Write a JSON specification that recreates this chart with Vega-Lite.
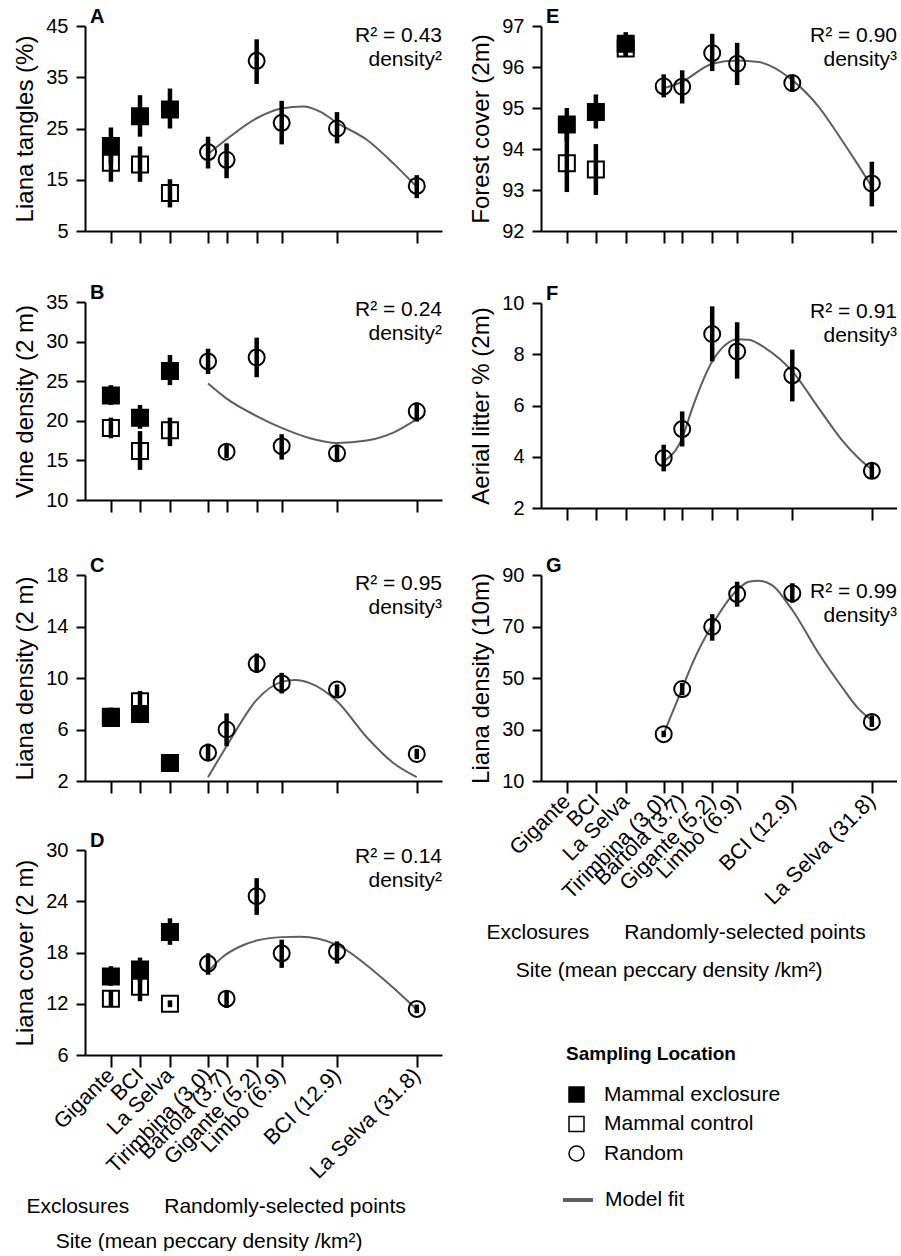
{
"$schema": "https://vega.github.io/schema/vega-lite/v6.json",
"padding": {"left": 13, "top": 7, "right": 0, "bottom": 0},
"background": "white",
"datasets": {
"pts": [
{"p":"A","d":1,"t":"Mammal exclosure","m":21.6,"lo":18.2,"hi":25.2},
{"p":"A","d":1.39,"t":"Mammal exclosure","m":27.4,"lo":23.4,"hi":31.5},
{"p":"A","d":1.95,"t":"Mammal exclosure","m":28.7,"lo":25.0,"hi":32.8},
{"p":"A","d":1,"t":"Mammal control","m":18.3,"lo":14.6,"hi":21.9},
{"p":"A","d":1.39,"t":"Mammal control","m":18.0,"lo":14.6,"hi":21.5},
{"p":"A","d":1.95,"t":"Mammal control","m":12.4,"lo":9.6,"hi":15.1},
{"p":"A","d":3,"t":"Random","m":20.4,"lo":17.2,"hi":23.4},
{"p":"A","d":3.7,"t":"Random","m":18.9,"lo":15.3,"hi":22.1},
{"p":"A","d":5.2,"t":"Random","m":38.2,"lo":33.7,"hi":42.4},
{"p":"A","d":6.9,"t":"Random","m":26.1,"lo":21.9,"hi":30.4},
{"p":"A","d":12.9,"t":"Random","m":25.0,"lo":22.1,"hi":28.2},
{"p":"A","d":31.8,"t":"Random","m":13.8,"lo":11.4,"hi":15.9},
{"p":"B","d":1,"t":"Mammal exclosure","m":23.2,"lo":22.0,"hi":24.5},
{"p":"B","d":1.39,"t":"Mammal exclosure","m":20.4,"lo":19.0,"hi":22.0},
{"p":"B","d":1.95,"t":"Mammal exclosure","m":26.3,"lo":24.5,"hi":28.3},
{"p":"B","d":1,"t":"Mammal control","m":19.1,"lo":17.8,"hi":20.4},
{"p":"B","d":1.39,"t":"Mammal control","m":16.2,"lo":13.8,"hi":18.7},
{"p":"B","d":1.95,"t":"Mammal control","m":18.8,"lo":16.8,"hi":20.4},
{"p":"B","d":3,"t":"Random","m":27.5,"lo":25.9,"hi":29.1},
{"p":"B","d":3.7,"t":"Random","m":16.1,"lo":15.3,"hi":17.0},
{"p":"B","d":5.2,"t":"Random","m":28.0,"lo":25.5,"hi":30.5},
{"p":"B","d":6.9,"t":"Random","m":16.8,"lo":15.1,"hi":18.3},
{"p":"B","d":12.9,"t":"Random","m":15.9,"lo":14.9,"hi":16.9},
{"p":"B","d":31.8,"t":"Random","m":21.2,"lo":19.9,"hi":22.3},
{"p":"C","d":1,"t":"Mammal exclosure","m":6.9,"lo":6.3,"hi":7.7},
{"p":"C","d":1.39,"t":"Mammal exclosure","m":7.2,"lo":6.5,"hi":7.8},
{"p":"C","d":1.95,"t":"Mammal exclosure","m":3.4,"lo":3.1,"hi":3.7},
{"p":"C","d":1,"t":"Mammal control","m":7.0,"lo":6.5,"hi":7.5},
{"p":"C","d":1.39,"t":"Mammal control","m":8.2,"lo":7.5,"hi":9.0},
{"p":"C","d":1.95,"t":"Mammal control","m":3.4,"lo":3.1,"hi":3.6},
{"p":"C","d":3,"t":"Random","m":4.2,"lo":3.6,"hi":4.9},
{"p":"C","d":3.7,"t":"Random","m":6.0,"lo":4.7,"hi":7.25},
{"p":"C","d":5.2,"t":"Random","m":11.1,"lo":10.4,"hi":11.9},
{"p":"C","d":6.9,"t":"Random","m":9.6,"lo":8.8,"hi":10.4},
{"p":"C","d":12.9,"t":"Random","m":9.1,"lo":8.55,"hi":9.5},
{"p":"C","d":31.8,"t":"Random","m":4.1,"lo":3.7,"hi":4.5},
{"p":"D","d":1,"t":"Mammal exclosure","m":15.2,"lo":14.1,"hi":16.4},
{"p":"D","d":1.39,"t":"Mammal exclosure","m":16.0,"lo":14.6,"hi":17.4},
{"p":"D","d":1.95,"t":"Mammal exclosure","m":20.4,"lo":18.9,"hi":22.0},
{"p":"D","d":1,"t":"Mammal control","m":12.6,"lo":11.7,"hi":13.6},
{"p":"D","d":1.39,"t":"Mammal control","m":14.0,"lo":12.3,"hi":15.8},
{"p":"D","d":1.95,"t":"Mammal control","m":12.0,"lo":11.6,"hi":12.4},
{"p":"D","d":3,"t":"Random","m":16.7,"lo":15.4,"hi":17.9},
{"p":"D","d":3.7,"t":"Random","m":12.6,"lo":11.5,"hi":13.5},
{"p":"D","d":5.2,"t":"Random","m":24.6,"lo":22.4,"hi":26.7},
{"p":"D","d":6.9,"t":"Random","m":17.9,"lo":16.2,"hi":19.5},
{"p":"D","d":12.9,"t":"Random","m":18.1,"lo":16.7,"hi":19.3},
{"p":"D","d":31.8,"t":"Random","m":11.4,"lo":10.9,"hi":11.9},
{"p":"E","d":1,"t":"Mammal exclosure","m":94.6,"lo":94.2,"hi":95.0},
{"p":"E","d":1.39,"t":"Mammal exclosure","m":94.9,"lo":94.5,"hi":95.33},
{"p":"E","d":1.95,"t":"Mammal exclosure","m":96.57,"lo":96.25,"hi":96.85},
{"p":"E","d":1,"t":"Mammal control","m":93.65,"lo":92.95,"hi":94.4},
{"p":"E","d":1.39,"t":"Mammal control","m":93.5,"lo":92.88,"hi":94.12},
{"p":"E","d":1.95,"t":"Mammal control","m":96.45,"lo":96.3,"hi":96.6},
{"p":"E","d":3,"t":"Random","m":95.53,"lo":95.26,"hi":95.82},
{"p":"E","d":3.7,"t":"Random","m":95.52,"lo":95.11,"hi":95.92},
{"p":"E","d":5.2,"t":"Random","m":96.34,"lo":95.9,"hi":96.81},
{"p":"E","d":6.9,"t":"Random","m":96.08,"lo":95.56,"hi":96.59},
{"p":"E","d":12.9,"t":"Random","m":95.61,"lo":95.39,"hi":95.8},
{"p":"E","d":31.8,"t":"Random","m":93.16,"lo":92.6,"hi":93.69},
{"p":"F","d":3,"t":"Random","m":3.95,"lo":3.43,"hi":4.47},
{"p":"F","d":3.7,"t":"Random","m":5.08,"lo":4.4,"hi":5.77},
{"p":"F","d":5.2,"t":"Random","m":8.79,"lo":7.72,"hi":9.87},
{"p":"F","d":6.9,"t":"Random","m":8.11,"lo":7.05,"hi":9.25},
{"p":"F","d":12.9,"t":"Random","m":7.18,"lo":6.16,"hi":8.18},
{"p":"F","d":31.8,"t":"Random","m":3.45,"lo":3.16,"hi":3.75},
{"p":"G","d":3,"t":"Random","m":28.2,"lo":27.0,"hi":29.5},
{"p":"G","d":3.7,"t":"Random","m":45.7,"lo":43.3,"hi":48.1},
{"p":"G","d":5.2,"t":"Random","m":69.9,"lo":64.5,"hi":74.8},
{"p":"G","d":6.9,"t":"Random","m":82.6,"lo":77.7,"hi":87.4},
{"p":"G","d":12.9,"t":"Random","m":82.9,"lo":79.2,"hi":86.8},
{"p":"G","d":31.8,"t":"Random","m":32.95,"lo":31.0,"hi":35.5}
],
"fit": [
{"p":"A","d":3,"v":20.0},{"p":"A","d":3.7,"v":22.9},{"p":"A","d":5.2,"v":27.0},{"p":"A","d":6.9,"v":28.9},{"p":"A","d":8.8,"v":29.3},{"p":"A","d":10.65,"v":28.3},{"p":"A","d":12.9,"v":26.1},{"p":"A","d":18.06,"v":22.8},{"p":"A","d":24.4,"v":18.2},{"p":"A","d":31.8,"v":13.6},
{"p":"B","d":3,"v":24.7},{"p":"B","d":3.7,"v":22.8},{"p":"B","d":5.2,"v":20.6},{"p":"B","d":6.9,"v":19.1},{"p":"B","d":9.5,"v":17.8},{"p":"B","d":12.9,"v":17.2},{"p":"B","d":18.06,"v":17.5},{"p":"B","d":24.4,"v":18.5},{"p":"B","d":31.8,"v":20.2},
{"p":"C","d":3,"v":2.3},{"p":"C","d":3.7,"v":4.7},{"p":"C","d":5.2,"v":8.3},{"p":"C","d":6.9,"v":9.7},{"p":"C","d":8.03,"v":9.85},{"p":"C","d":9.5,"v":9.6},{"p":"C","d":12.9,"v":8.2},{"p":"C","d":18.06,"v":5.4},{"p":"C","d":24.4,"v":3.4},{"p":"C","d":31.8,"v":2.3},
{"p":"D","d":3,"v":15.75},{"p":"D","d":3.55,"v":17.5},{"p":"D","d":4.31,"v":18.7},{"p":"D","d":5.2,"v":19.4},{"p":"D","d":6.9,"v":19.8},{"p":"D","d":8.49,"v":19.85},{"p":"D","d":12.9,"v":18.9},{"p":"D","d":20.2,"v":15.55},{"p":"D","d":29.5,"v":12.05},{"p":"D","d":31.8,"v":11.3},
{"p":"E","d":3,"v":95.48},{"p":"E","d":3.7,"v":95.64},{"p":"E","d":5.2,"v":96.08},{"p":"E","d":6.9,"v":96.16},{"p":"E","d":8.82,"v":96.12},{"p":"E","d":12.9,"v":95.68},{"p":"E","d":17.4,"v":95.03},{"p":"E","d":22.6,"v":94.22},{"p":"E","d":27.3,"v":93.6},{"p":"E","d":31.8,"v":93.08},
{"p":"F","d":3,"v":3.82},{"p":"F","d":3.7,"v":4.73},{"p":"F","d":4.15,"v":5.9},{"p":"F","d":5.2,"v":7.72},{"p":"F","d":6.05,"v":8.37},{"p":"F","d":6.9,"v":8.59},{"p":"F","d":7.87,"v":8.57},{"p":"F","d":9.5,"v":8.24},{"p":"F","d":12.9,"v":7.33},{"p":"F","d":17.4,"v":5.9},{"p":"F","d":22.6,"v":4.66},{"p":"F","d":27.3,"v":3.95},{"p":"F","d":31.8,"v":3.5},
{"p":"G","d":3,"v":28.4},{"p":"G","d":3.7,"v":45.9},{"p":"G","d":4.15,"v":55.6},{"p":"G","d":5.2,"v":70.6},{"p":"G","d":6.9,"v":84.2},{"p":"G","d":7.87,"v":87.4},{"p":"G","d":8.82,"v":87.8},{"p":"G","d":10.25,"v":86.1},{"p":"G","d":12.9,"v":76.4},{"p":"G","d":17.4,"v":59.5},{"p":"G","d":22.6,"v":46.6},{"p":"G","d":27.3,"v":38.1},{"p":"G","d":31.8,"v":33.6}
],
"ann": [
{"p":"A","lt":"A","label":"R² = 0.43\ndensity²"},
{"p":"B","lt":"B","label":"R² = 0.24\ndensity²"},
{"p":"C","lt":"C","label":"R² = 0.95\ndensity³"},
{"p":"D","lt":"D","label":"R² = 0.14\ndensity²"},
{"p":"E","lt":"E","label":"R² = 0.90\ndensity³"},
{"p":"F","lt":"F","label":"R² = 0.91\ndensity³"},
{"p":"G","lt":"G","label":"R² = 0.99\ndensity³"}
]
},
"hconcat": [
{"vconcat": [
 {"vconcat": [
  {"width": 357, "height": 205,
   "layer": [
    {"data": {"name": "fit"}, "transform": [{"filter": "datum.p=='A'"}], "mark": {"type": "line", "interpolate": "monotone", "strokeWidth": 2},
     "encoding": {"x": {"field": "d", "type": "quantitative", "scale": {"type": "log", "domain": [0.746, 42.3], "nice": false}, "axis": {"values": [1,1.39,1.95,3,3.7,5.2,6.9,12.9,31.8], "tickCount": 30, "labels": false, "title": null}},
      "y": {"field": "v", "type": "quantitative", "scale": {"domain": [5,45], "nice": false, "zero": false}, "axis": {"values": [5,15,25,35,45], "tickCount": 20, "format": "d", "labelOverlap": false, "title": "Liana tangles (%)"}},
      "stroke": {"datum": "Model fit", "type": "nominal", "scale": {"domain": ["Model fit"], "range": ["#5e5e5e"]}, "legend": {"title": null, "orient": "none", "legendX": 476, "legendY": 1157, "symbolType": "stroke", "symbolStrokeWidth": 4, "symbolSize": 900, "labelOffset": 10}}}},
    {"data": {"name": "pts"}, "transform": [{"filter": "datum.p=='A'"}], "mark": {"type": "point", "stroke": "black", "strokeWidth": 2, "size": 256, "opacity": 1},
     "encoding": {"x": {"field": "d", "type": "quantitative"}, "y": {"field": "m", "type": "quantitative"},
      "shape": {"field": "t", "type": "nominal", "scale": {"domain": ["Mammal exclosure","Mammal control","Random"], "range": ["square","square","circle"]}, "legend": {"title": "Sampling Location", "orient": "none", "legendX": 481, "legendY": 1019, "encode": {"symbols": {"update": {"stroke": {"value": "black"}, "strokeWidth": {"value": 2}}}}}},
      "fill": {"field": "t", "type": "nominal", "scale": {"domain": ["Mammal exclosure","Mammal control","Random"], "range": ["black","transparent","transparent"]}, "legend": {"title": "Sampling Location", "orient": "none", "legendX": 481, "legendY": 1019, "encode": {"symbols": {"update": {"stroke": {"value": "black"}, "strokeWidth": {"value": 2}}}}}}}},
    {"data": {"name": "pts"}, "transform": [{"filter": "datum.p=='A'"}], "mark": {"type": "rule", "color": "black", "strokeWidth": 4.5},
     "encoding": {"x": {"field": "d", "type": "quantitative"}, "y": {"field": "lo", "type": "quantitative"}, "y2": {"field": "hi"}}},
    {"data": {"name": "ann"}, "transform": [{"filter": "datum.p=='A'"}], "mark": {"type": "text", "align": "right", "baseline": "alphabetic", "fontSize": 21, "lineBreak": "\n", "lineHeight": 24},
     "encoding": {"x": {"datum": 42.3, "type": "quantitative"}, "y": {"datum": 41.9, "type": "quantitative"}, "text": {"field": "label"}}},
    {"data": {"name": "ann"}, "transform": [{"filter": "datum.p=='A'"}], "mark": {"type": "text", "align": "left", "baseline": "alphabetic", "fontSize": 20, "fontWeight": "bold", "dx": 5, "dy": -3},
     "encoding": {"x": {"datum": 0.746, "type": "quantitative"}, "y": {"datum": 45, "type": "quantitative"}, "text": {"field": "lt"}}}
   ]},
  {"width": 357, "height": 198,
   "layer": [
    {"data": {"name": "fit"}, "transform": [{"filter": "datum.p=='B'"}], "mark": {"type": "line", "interpolate": "monotone", "strokeWidth": 2},
     "encoding": {"x": {"field": "d", "type": "quantitative", "scale": {"type": "log", "domain": [0.746, 42.3], "nice": false}, "axis": {"values": [1,1.39,1.95,3,3.7,5.2,6.9,12.9,31.8], "tickCount": 30, "labels": false, "title": null}},
      "y": {"field": "v", "type": "quantitative", "scale": {"domain": [10,35], "nice": false, "zero": false}, "axis": {"values": [10,15,20,25,30,35], "tickCount": 20, "format": "d", "labelOverlap": false, "title": "Vine density (2 m)"}},
      "stroke": {"datum": "Model fit", "type": "nominal"}}},
    {"data": {"name": "pts"}, "transform": [{"filter": "datum.p=='B'"}], "mark": {"type": "point", "stroke": "black", "strokeWidth": 2, "size": 256, "opacity": 1},
     "encoding": {"x": {"field": "d", "type": "quantitative"}, "y": {"field": "m", "type": "quantitative"},
      "shape": {"field": "t", "type": "nominal", "title": "Sampling Location"},
      "fill": {"field": "t", "type": "nominal", "title": "Sampling Location"}}},
    {"data": {"name": "pts"}, "transform": [{"filter": "datum.p=='B'"}], "mark": {"type": "rule", "color": "black", "strokeWidth": 4.5},
     "encoding": {"x": {"field": "d", "type": "quantitative"}, "y": {"field": "lo", "type": "quantitative"}, "y2": {"field": "hi"}}},
    {"data": {"name": "ann"}, "transform": [{"filter": "datum.p=='B'"}], "mark": {"type": "text", "align": "right", "baseline": "alphabetic", "fontSize": 21, "lineBreak": "\n", "lineHeight": 24},
     "encoding": {"x": {"datum": 42.3, "type": "quantitative"}, "y": {"datum": 33.2, "type": "quantitative"}, "text": {"field": "label"}}},
    {"data": {"name": "ann"}, "transform": [{"filter": "datum.p=='B'"}], "mark": {"type": "text", "align": "left", "baseline": "alphabetic", "fontSize": 20, "fontWeight": "bold", "dx": 5, "dy": -3},
     "encoding": {"x": {"datum": 0.746, "type": "quantitative"}, "y": {"datum": 35, "type": "quantitative"}, "text": {"field": "lt"}}}
   ]}
 ], "spacing": 39},
 {"vconcat": [
  {"width": 357, "height": 206,
   "layer": [
    {"data": {"name": "fit"}, "transform": [{"filter": "datum.p=='C'"}], "mark": {"type": "line", "interpolate": "monotone", "strokeWidth": 2},
     "encoding": {"x": {"field": "d", "type": "quantitative", "scale": {"type": "log", "domain": [0.746, 42.3], "nice": false}, "axis": {"values": [1,1.39,1.95,3,3.7,5.2,6.9,12.9,31.8], "tickCount": 30, "labels": false, "title": null}},
      "y": {"field": "v", "type": "quantitative", "scale": {"domain": [2,18], "nice": false, "zero": false}, "axis": {"values": [2,6,10,14,18], "tickCount": 20, "format": "d", "labelOverlap": false, "title": "Liana density (2 m)"}},
      "stroke": {"datum": "Model fit", "type": "nominal"}}},
    {"data": {"name": "pts"}, "transform": [{"filter": "datum.p=='C'"}], "mark": {"type": "point", "stroke": "black", "strokeWidth": 2, "size": 256, "opacity": 1},
     "encoding": {"x": {"field": "d", "type": "quantitative"}, "y": {"field": "m", "type": "quantitative"},
      "shape": {"field": "t", "type": "nominal", "title": "Sampling Location"},
      "fill": {"field": "t", "type": "nominal", "title": "Sampling Location"}}},
    {"data": {"name": "pts"}, "transform": [{"filter": "datum.p=='C'"}], "mark": {"type": "rule", "color": "black", "strokeWidth": 4.5},
     "encoding": {"x": {"field": "d", "type": "quantitative"}, "y": {"field": "lo", "type": "quantitative"}, "y2": {"field": "hi"}}},
    {"data": {"name": "ann"}, "transform": [{"filter": "datum.p=='C'"}], "mark": {"type": "text", "align": "right", "baseline": "alphabetic", "fontSize": 21, "lineBreak": "\n", "lineHeight": 24},
     "encoding": {"x": {"datum": 42.3, "type": "quantitative"}, "y": {"datum": 16.8, "type": "quantitative"}, "text": {"field": "label"}}},
    {"data": {"name": "ann"}, "transform": [{"filter": "datum.p=='C'"}], "mark": {"type": "text", "align": "left", "baseline": "alphabetic", "fontSize": 20, "fontWeight": "bold", "dx": 5, "dy": -3},
     "encoding": {"x": {"datum": 0.746, "type": "quantitative"}, "y": {"datum": 18, "type": "quantitative"}, "text": {"field": "lt"}}}
   ]},
  {"width": 357, "height": 205,
   "layer": [
    {"data": {"name": "fit"}, "transform": [{"filter": "datum.p=='D'"}], "mark": {"type": "line", "interpolate": "monotone", "strokeWidth": 2},
     "encoding": {"x": {"field": "d", "type": "quantitative", "scale": {"type": "log", "domain": [0.746, 42.3], "nice": false},
        "axis": {"values": [1,1.39,1.95,3,3.7,5.2,6.9,12.9,31.8], "tickCount": 30, "labels": true, "labelAngle": -45, "labelAlign": "right", "labelBaseline": "middle", "labelPadding": 5, "labelFontSize": 21.5, "labelOverlap": false, "labelFlush": false,
          "labelExpr": "datum.value==1?'Gigante':datum.value==1.39?'BCI':datum.value==1.95?'La Selva':datum.value==3?'Tirimbina (3.0)':datum.value==3.7?'Bartola (3.7)':datum.value==5.2?'Gigante (5.2)':datum.value==6.9?'Limbo (6.9)':datum.value==12.9?'BCI (12.9)':'La Selva (31.8)'",
          "title": ["Exclosures\u00a0\u00a0\u00a0\u00a0\u00a0\u00a0Randomly-selected points", "\u200b\u00a0\u00a0\u00a0\u00a0\u00a0Site (mean peccary density /km²)"], "titleX": -59, "titleY": 157, "titleAlign": "left", "titleBaseline": "alphabetic", "titleFontSize": 21, "titleLineHeight": 35, "titleAngle": 0}},
      "y": {"field": "v", "type": "quantitative", "scale": {"domain": [6,30], "nice": false, "zero": false}, "axis": {"values": [6,12,18,24,30], "tickCount": 20, "format": "d", "labelOverlap": false, "title": "Liana cover (2 m)"}},
      "stroke": {"datum": "Model fit", "type": "nominal"}}},
    {"data": {"name": "pts"}, "transform": [{"filter": "datum.p=='D'"}], "mark": {"type": "point", "stroke": "black", "strokeWidth": 2, "size": 256, "opacity": 1},
     "encoding": {"x": {"field": "d", "type": "quantitative"}, "y": {"field": "m", "type": "quantitative"},
      "shape": {"field": "t", "type": "nominal", "title": "Sampling Location"},
      "fill": {"field": "t", "type": "nominal", "title": "Sampling Location"}}},
    {"data": {"name": "pts"}, "transform": [{"filter": "datum.p=='D'"}], "mark": {"type": "rule", "color": "black", "strokeWidth": 4.5},
     "encoding": {"x": {"field": "d", "type": "quantitative"}, "y": {"field": "lo", "type": "quantitative"}, "y2": {"field": "hi"}}},
    {"data": {"name": "ann"}, "transform": [{"filter": "datum.p=='D'"}], "mark": {"type": "text", "align": "right", "baseline": "alphabetic", "fontSize": 21, "lineBreak": "\n", "lineHeight": 24},
     "encoding": {"x": {"datum": 42.3, "type": "quantitative"}, "y": {"datum": 28.5, "type": "quantitative"}, "text": {"field": "label"}}},
    {"data": {"name": "ann"}, "transform": [{"filter": "datum.p=='D'"}], "mark": {"type": "text", "align": "left", "baseline": "alphabetic", "fontSize": 20, "fontWeight": "bold", "dx": 5, "dy": -3},
     "encoding": {"x": {"datum": 0.746, "type": "quantitative"}, "y": {"datum": 30, "type": "quantitative"}, "text": {"field": "lt"}}}
   ]}
 ], "spacing": 37}
], "spacing": 43},
{"vconcat": [
 {"vconcat": [
  {"width": 356, "height": 205,
   "layer": [
    {"data": {"name": "fit"}, "transform": [{"filter": "datum.p=='E'"}], "mark": {"type": "line", "interpolate": "monotone", "strokeWidth": 2},
     "encoding": {"x": {"field": "d", "type": "quantitative", "scale": {"type": "log", "domain": [0.746, 42.3], "nice": false}, "axis": {"values": [1,1.39,1.95,3,3.7,5.2,6.9,12.9,31.8], "tickCount": 30, "labels": false, "title": null}},
      "y": {"field": "v", "type": "quantitative", "scale": {"domain": [92,97], "nice": false, "zero": false}, "axis": {"values": [92,93,94,95,96,97], "tickCount": 20, "format": "d", "labelOverlap": false, "title": "Forest cover (2m)"}},
      "stroke": {"datum": "Model fit", "type": "nominal"}}},
    {"data": {"name": "pts"}, "transform": [{"filter": "datum.p=='E'"}], "mark": {"type": "point", "stroke": "black", "strokeWidth": 2, "size": 256, "opacity": 1},
     "encoding": {"x": {"field": "d", "type": "quantitative"}, "y": {"field": "m", "type": "quantitative"},
      "shape": {"field": "t", "type": "nominal", "title": "Sampling Location"},
      "fill": {"field": "t", "type": "nominal", "title": "Sampling Location"}}},
    {"data": {"name": "pts"}, "transform": [{"filter": "datum.p=='E'"}], "mark": {"type": "rule", "color": "black", "strokeWidth": 4.5},
     "encoding": {"x": {"field": "d", "type": "quantitative"}, "y": {"field": "lo", "type": "quantitative"}, "y2": {"field": "hi"}}},
    {"data": {"name": "ann"}, "transform": [{"filter": "datum.p=='E'"}], "mark": {"type": "text", "align": "right", "baseline": "alphabetic", "fontSize": 21, "lineBreak": "\n", "lineHeight": 24},
     "encoding": {"x": {"datum": 42.3, "type": "quantitative"}, "y": {"datum": 96.61, "type": "quantitative"}, "text": {"field": "label"}}},
    {"data": {"name": "ann"}, "transform": [{"filter": "datum.p=='E'"}], "mark": {"type": "text", "align": "left", "baseline": "alphabetic", "fontSize": 20, "fontWeight": "bold", "dx": 5, "dy": -3},
     "encoding": {"x": {"datum": 0.746, "type": "quantitative"}, "y": {"datum": 97, "type": "quantitative"}, "text": {"field": "lt"}}}
   ]},
  {"width": 356, "height": 205,
   "layer": [
    {"data": {"name": "fit"}, "transform": [{"filter": "datum.p=='F'"}], "mark": {"type": "line", "interpolate": "monotone", "strokeWidth": 2},
     "encoding": {"x": {"field": "d", "type": "quantitative", "scale": {"type": "log", "domain": [0.746, 42.3], "nice": false}, "axis": {"values": [1,1.39,1.95,3,3.7,5.2,6.9,12.9,31.8], "tickCount": 30, "labels": false, "title": null}},
      "y": {"field": "v", "type": "quantitative", "scale": {"domain": [2,10], "nice": false, "zero": false}, "axis": {"values": [2,4,6,8,10], "tickCount": 20, "format": "d", "labelOverlap": false, "title": "Aerial litter % (2m)"}},
      "stroke": {"datum": "Model fit", "type": "nominal"}}},
    {"data": {"name": "pts"}, "transform": [{"filter": "datum.p=='F'"}], "mark": {"type": "point", "stroke": "black", "strokeWidth": 2, "size": 256, "opacity": 1},
     "encoding": {"x": {"field": "d", "type": "quantitative"}, "y": {"field": "m", "type": "quantitative"},
      "shape": {"field": "t", "type": "nominal", "title": "Sampling Location"},
      "fill": {"field": "t", "type": "nominal", "title": "Sampling Location"}}},
    {"data": {"name": "pts"}, "transform": [{"filter": "datum.p=='F'"}], "mark": {"type": "rule", "color": "black", "strokeWidth": 4.5},
     "encoding": {"x": {"field": "d", "type": "quantitative"}, "y": {"field": "lo", "type": "quantitative"}, "y2": {"field": "hi"}}},
    {"data": {"name": "ann"}, "transform": [{"filter": "datum.p=='F'"}], "mark": {"type": "text", "align": "right", "baseline": "alphabetic", "fontSize": 21, "lineBreak": "\n", "lineHeight": 24},
     "encoding": {"x": {"datum": 42.3, "type": "quantitative"}, "y": {"datum": 9.41, "type": "quantitative"}, "text": {"field": "label"}}},
    {"data": {"name": "ann"}, "transform": [{"filter": "datum.p=='F'"}], "mark": {"type": "text", "align": "left", "baseline": "alphabetic", "fontSize": 20, "fontWeight": "bold", "dx": 5, "dy": -3},
     "encoding": {"x": {"datum": 0.746, "type": "quantitative"}, "y": {"datum": 10, "type": "quantitative"}, "text": {"field": "lt"}}}
   ]}
 ], "spacing": 40},
  {"width": 356, "height": 206,
   "layer": [
    {"data": {"name": "fit"}, "transform": [{"filter": "datum.p=='G'"}], "mark": {"type": "line", "interpolate": "monotone", "strokeWidth": 2},
     "encoding": {"x": {"field": "d", "type": "quantitative", "scale": {"type": "log", "domain": [0.746, 42.3], "nice": false},
        "axis": {"values": [1,1.39,1.95,3,3.7,5.2,6.9,12.9,31.8], "tickCount": 30, "labels": true, "labelAngle": -45, "labelAlign": "right", "labelBaseline": "middle", "labelPadding": 5, "labelFontSize": 21.5, "labelOverlap": false, "labelFlush": false,
          "labelExpr": "datum.value==1?'Gigante':datum.value==1.39?'BCI':datum.value==1.95?'La Selva':datum.value==3?'Tirimbina (3.0)':datum.value==3.7?'Bartola (3.7)':datum.value==5.2?'Gigante (5.2)':datum.value==6.9?'Limbo (6.9)':datum.value==12.9?'BCI (12.9)':'La Selva (31.8)'",
          "title": ["Exclosures\u00a0\u00a0\u00a0\u00a0\u00a0\u00a0Randomly-selected points", "\u200b\u00a0\u00a0\u00a0\u00a0\u00a0Site (mean peccary density /km²)"], "titleX": -55, "titleY": 157, "titleAlign": "left", "titleBaseline": "alphabetic", "titleFontSize": 21, "titleLineHeight": 38, "titleAngle": 0}},
      "y": {"field": "v", "type": "quantitative", "scale": {"domain": [10,90], "nice": false, "zero": false}, "axis": {"values": [10,30,50,70,90], "tickCount": 20, "format": "d", "labelOverlap": false, "title": "Liana density (10m)"}},
      "stroke": {"datum": "Model fit", "type": "nominal"}}},
    {"data": {"name": "pts"}, "transform": [{"filter": "datum.p=='G'"}], "mark": {"type": "point", "stroke": "black", "strokeWidth": 2, "size": 256, "opacity": 1},
     "encoding": {"x": {"field": "d", "type": "quantitative"}, "y": {"field": "m", "type": "quantitative"},
      "shape": {"field": "t", "type": "nominal", "title": "Sampling Location"},
      "fill": {"field": "t", "type": "nominal", "title": "Sampling Location"}}},
    {"data": {"name": "pts"}, "transform": [{"filter": "datum.p=='G'"}], "mark": {"type": "rule", "color": "black", "strokeWidth": 4.5},
     "encoding": {"x": {"field": "d", "type": "quantitative"}, "y": {"field": "lo", "type": "quantitative"}, "y2": {"field": "hi"}}},
    {"data": {"name": "ann"}, "transform": [{"filter": "datum.p=='G'"}], "mark": {"type": "text", "align": "right", "baseline": "alphabetic", "fontSize": 21, "lineBreak": "\n", "lineHeight": 24},
     "encoding": {"x": {"datum": 42.3, "type": "quantitative"}, "y": {"datum": 81.05, "type": "quantitative"}, "text": {"field": "label"}}},
    {"data": {"name": "ann"}, "transform": [{"filter": "datum.p=='G'"}], "mark": {"type": "text", "align": "left", "baseline": "alphabetic", "fontSize": 20, "fontWeight": "bold", "dx": 5, "dy": -3},
     "encoding": {"x": {"datum": 0.746, "type": "quantitative"}, "y": {"datum": 90, "type": "quantitative"}, "text": {"field": "lt"}}}
   ]}
], "spacing": 35}
],
"spacing": 27,
"config": {
 "font": "Liberation Sans",
 "view": {"stroke": null},
 "text": {"font": "Liberation Sans", "color": "black"},
 "axis": {"domainColor": "black", "domainWidth": 2, "tickColor": "black", "tickWidth": 2, "labelFont": "Liberation Sans", "labelFontSize": 20, "labelColor": "black", "labelOverlap": false, "titleFont": "Liberation Sans", "titleFontSize": 24, "titleFontWeight": "normal", "titleColor": "black", "grid": false, "minExtent": 0},
 "axisY": {"tickSize": 9, "labelPadding": 8, "titlePadding": 8},
 "axisX": {"tickSize": 12},
 "legend": {"labelFont": "Liberation Sans", "labelFontSize": 21, "labelColor": "black", "labelLimit": 400, "titleFont": "Liberation Sans", "titleFontSize": 19, "titleColor": "black", "titleFontWeight": "bold", "symbolSize": 225, "rowPadding": 7.5, "labelOffset": 17, "titlePadding": 20, "padding": 0, "symbolOpacity": 1}
}
}
